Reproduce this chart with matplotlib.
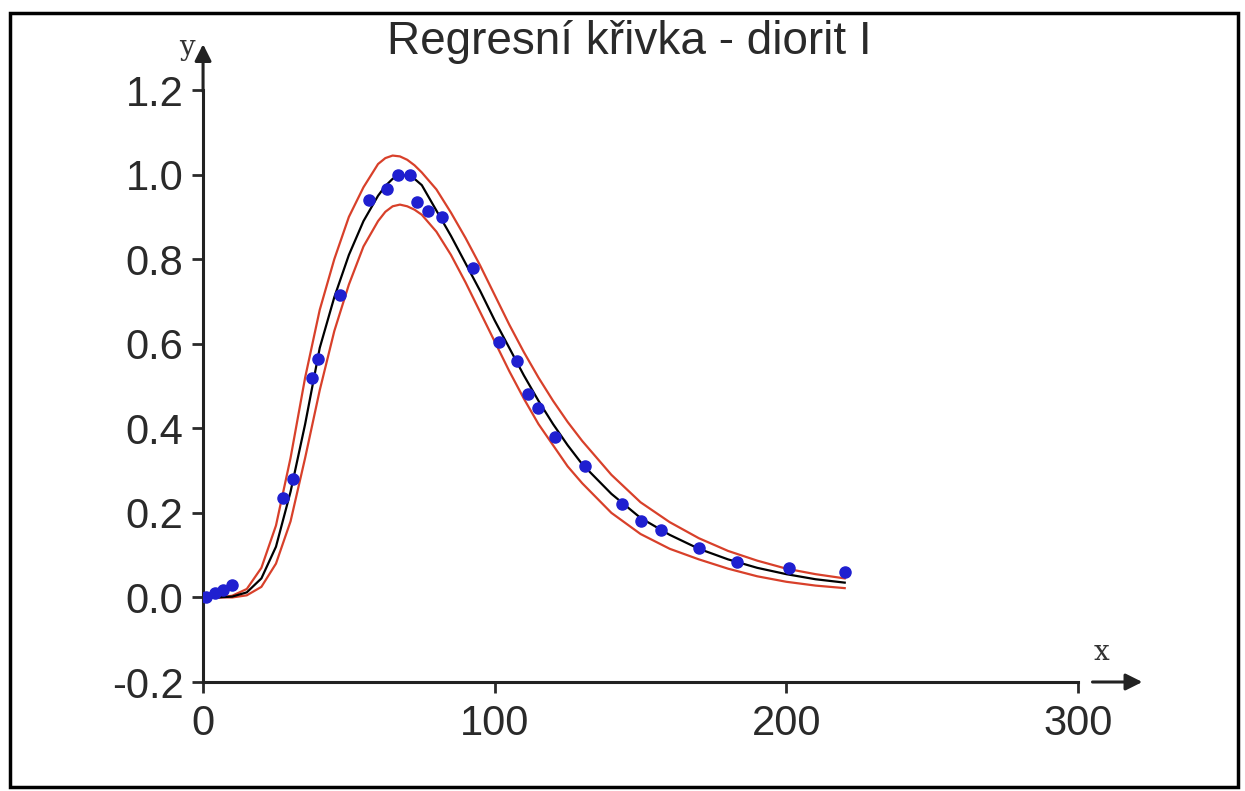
import numpy as np
import matplotlib.pyplot as plt
from matplotlib.patches import Rectangle

plt.rcParams['font.family'] = ['Liberation Sans', 'DejaVu Sans']

# měřené body
x_data = [1, 4, 7, 10, 27.5, 31, 37.5, 39.5, 47, 57, 63, 67, 71, 73.5, 77, 82,
          92.5, 101.5, 107.5, 111.5, 115, 120.5, 131, 143.5, 150, 157, 170,
          183, 201, 220]
y_data = [0.0, 0.01, 0.017, 0.03, 0.235, 0.28, 0.52, 0.565, 0.715, 0.94, 0.965,
          1.0, 1.0, 0.935, 0.915, 0.9, 0.78, 0.605, 0.558, 0.48, 0.447, 0.38,
          0.31, 0.22, 0.18, 0.16, 0.118, 0.083, 0.07, 0.059]

# regresní křivka a pás
x_fit = [0, 5, 10, 15, 20, 25, 30, 35, 40, 45, 50, 55, 60, 62.5, 65, 67.5, 70,
         72.5, 75, 80, 85, 90, 95, 100, 105, 110, 115, 120, 125, 130, 140, 150,
         160, 170, 180, 190, 200, 210, 220]
y_fit = [0.0, 0.0, 0.002, 0.012, 0.045, 0.12, 0.25, 0.41, 0.59, 0.71, 0.81,
         0.89, 0.95, 0.973, 0.99, 0.998, 0.998, 0.99, 0.975, 0.915, 0.855,
         0.79, 0.725, 0.655, 0.59, 0.525, 0.465, 0.41, 0.36, 0.315, 0.245,
         0.188, 0.148, 0.115, 0.09, 0.07, 0.055, 0.043, 0.035]
y_upper = [0.0, 0.0, 0.004, 0.02, 0.07, 0.17, 0.33, 0.52, 0.68, 0.8, 0.9,
           0.97, 1.025, 1.039, 1.045, 1.043, 1.035, 1.022, 1.005, 0.965, 0.91,
           0.85, 0.785, 0.715, 0.645, 0.58, 0.52, 0.465, 0.415, 0.37, 0.29,
           0.225, 0.178, 0.14, 0.11, 0.087, 0.068, 0.055, 0.045]
y_lower = [0.0, 0.0, 0.0, 0.005, 0.025, 0.08, 0.18, 0.33, 0.49, 0.63, 0.74,
           0.83, 0.89, 0.912, 0.925, 0.929, 0.925, 0.917, 0.905, 0.865, 0.81,
           0.745, 0.675, 0.605, 0.535, 0.47, 0.41, 0.36, 0.31, 0.27, 0.2,
           0.15, 0.115, 0.09, 0.068, 0.05, 0.037, 0.028, 0.022]

xticks = [0, 100, 200, 300]
yticks = [-0.2, 0.0, 0.2, 0.4, 0.6, 0.8, 1.0, 1.2]

fig = plt.figure(figsize=(12.45, 7.91), dpi=100)
ax = fig.add_axes([0.1631, 0.1378, 0.7028, 0.7484])

# rámeček kolem celého obrázku
fig.patches.append(Rectangle((10 / 1245, 4 / 791), 1228 / 1245, 774 / 791,
                             transform=fig.transFigure, fill=False,
                             edgecolor='black', linewidth=2.5))

ax.plot(x_fit, y_upper, color='#d8402a', lw=1.6)
ax.plot(x_fit, y_lower, color='#d8402a', lw=1.6)
ax.plot(x_fit, y_fit, color='black', lw=1.6)
ax.plot(x_data, y_data, 'o', color='#1f1fd0', markersize=8, zorder=5)

ax.set_xlim(0, 300)
ax.set_ylim(-0.2, 1.2)
ax.set_xticks(xticks)
ax.set_yticks(yticks)
ax.set_xticklabels([str(t) for t in xticks])
ax.set_yticklabels([f'{t:.1f}' for t in yticks])
ax.tick_params(axis='both', labelsize=30, length=8, width=2,
               colors='#2a2a2a')
ax.tick_params(axis='x', pad=8)
ax.tick_params(axis='y', pad=6)

for s in ['top', 'right']:
    ax.spines[s].set_visible(False)
for s in ['left', 'bottom']:
    ax.spines[s].set_linewidth(2.2)
    ax.spines[s].set_color('#222222')

# šipky os
ax.annotate('', xy=(0, 1.315), xytext=(0, 1.19),
            arrowprops=dict(arrowstyle='-|>', color='#222222', lw=2.2,
                            mutation_scale=25),
            annotation_clip=False)
ax.annotate('', xy=(323, -0.2), xytext=(304, -0.2),
            arrowprops=dict(arrowstyle='-|>', color='#222222', lw=2.2,
                            mutation_scale=25),
            annotation_clip=False)
ax.text(-3, 1.3, 'y', fontsize=20, family='DejaVu Serif', ha='right',
        va='center', color='#333333', clip_on=False)
ax.text(308, -0.13, 'x', fontsize=20, family='DejaVu Serif', ha='center',
        va='center', color='#333333', clip_on=False)

fig.text(629 / 1245, 1 - 42 / 791, 'Regresní křivka - diorit I', fontsize=33,
         ha='center', va='center', color='#2a2a2a')

fig.savefig('out.png', dpi=100)
